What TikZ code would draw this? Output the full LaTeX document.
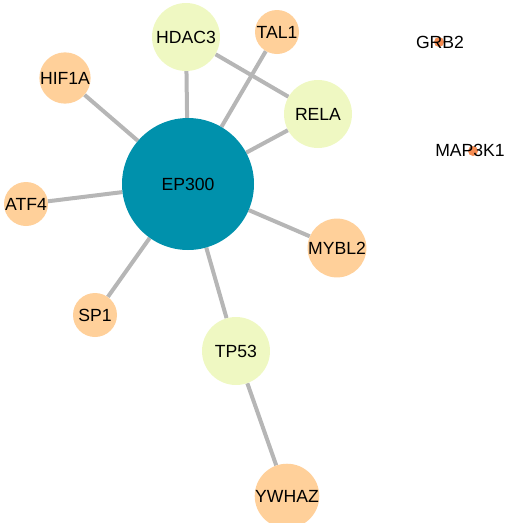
\documentclass[tikz,border=0pt]{standalone}
\usepackage{fontspec}
\setmainfont{Liberation Sans}
\usetikzlibrary{backgrounds}
\definecolor{hub}{RGB}{0,145,172}
\definecolor{mid}{RGB}{239,248,194}
\definecolor{low}{RGB}{255,208,154}
\definecolor{tiny}{RGB}{246,140,82}
\definecolor{edgec}{RGB}{182,182,182}
\tikzset{
  gene/.style={circle, inner sep=0pt, draw=none, font=\fontsize{17.6}{20}\selectfont, text=black},
  hubnode/.style={gene, fill=hub, minimum size=132pt},
  midnode/.style={gene, fill=mid, minimum size=68pt},
  lownode/.style={gene, fill=low, minimum size=44pt},
  tinynode/.style={circle, inner sep=0pt, fill=tiny, minimum size=10pt},
  tinylabel/.style={font=\fontsize{17.6}{20}\selectfont, inner sep=0pt, text=black},
  link/.style={draw=edgec, line width=4pt}
}
\begin{document}
\begin{tikzpicture}[x=1pt,y=-1pt]
\useasboundingbox (0,0) rectangle (505,523);
\node[hubnode] (ep300) at (188,184) {EP300};
\node[midnode] (hdac3) at (186,37) {HDAC3};
\node[lownode] (tal1) at (277,32) {TAL1};
\node[midnode] (rela) at (318,114) {RELA};
\node[lownode] (hif1a) at (65,78) {HIF1A};
\node[lownode] (atf4) at (26,204) {ATF4};
\node[lownode] (sp1) at (95,315) {SP1};
\node[midnode] (tp53) at (236,351) {TP53};
\node[lownode] (mybl2) at (337,248) {MYBL2};
\node[lownode] (ywhaz) at (287,496) {YWHAZ};
\node[tinynode] (grb2) at (439,42) {};
\node[tinylabel] (grb2t) at (440,42) {GRB2};
\node[tinynode] (map3k1) at (473,151) {};
\node[tinylabel] (map3k1t) at (470,150) {MAP3K1};
\begin{pgfonlayer}{background}
\draw[link] (ep300) -- (hdac3);
\draw[link] (ep300) -- (tal1);
\draw[link] (ep300) -- (rela);
\draw[link] (ep300) -- (hif1a);
\draw[link] (ep300) -- (atf4);
\draw[link] (ep300) -- (sp1);
\draw[link] (ep300) -- (tp53);
\draw[link] (ep300) -- (mybl2);
\draw[link] (hdac3) -- (rela);
\draw[link] (tp53) -- (ywhaz);
\end{pgfonlayer}
\end{tikzpicture}
\end{document}
